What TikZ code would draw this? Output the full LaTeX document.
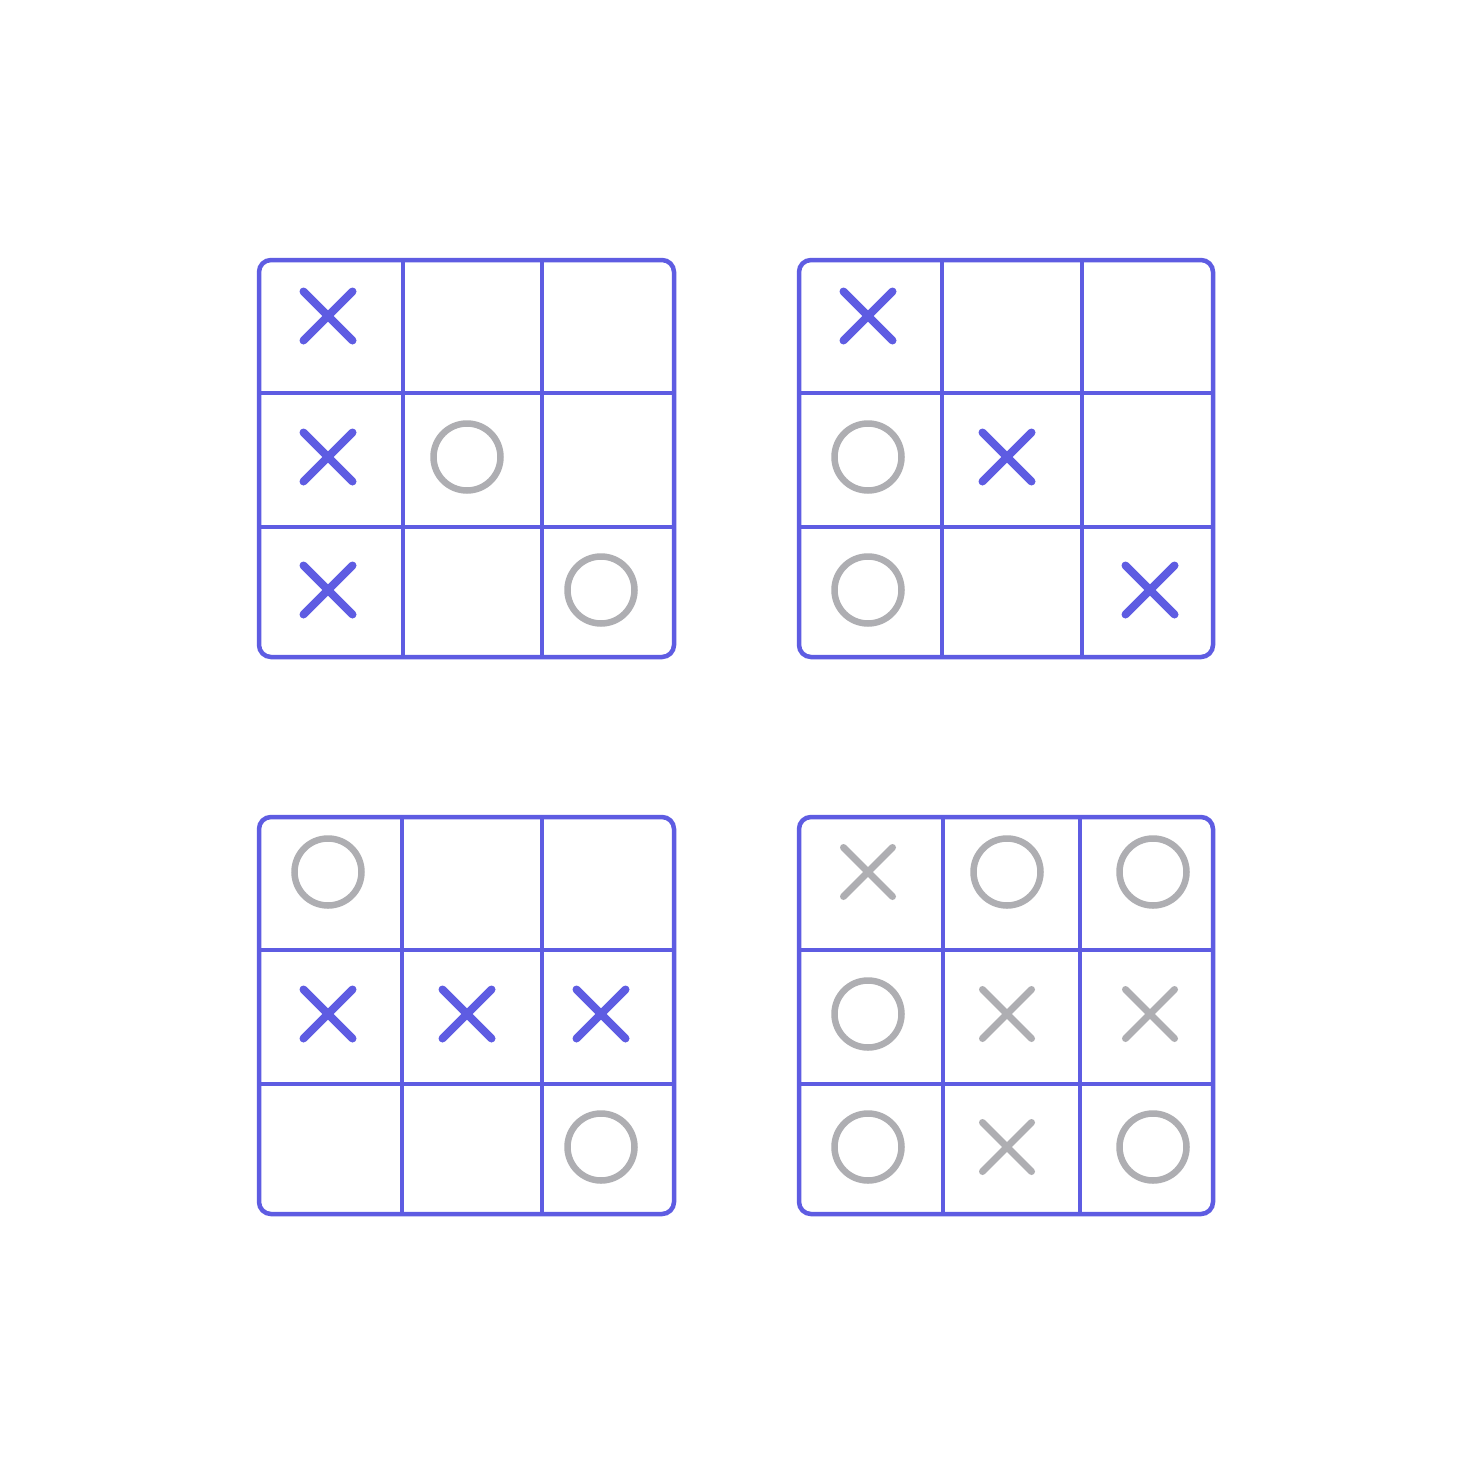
\documentclass[tikz,border=0pt]{standalone}
\usepackage{xcolor}
\usepackage{tikz}
\definecolor{gridblue}{HTML}{5E5CE2}
\definecolor{markgray}{HTML}{AEAEB2}

\begin{document}
\begin{tikzpicture}[
   			x=1pt, y=-1pt,
   			board/.style={draw=gridblue, line width=4.5pt, rounded corners=12pt},
   			gridline/.style={draw=gridblue, line width=4.3pt},
   			xmark/.style={line width=8pt, line cap=round},
   			omark/.style={draw=markgray, line width=6.5pt},
   			cross/.pic={\draw[xmark, pic actions] (-24.5,-24.5) -- (24.5,24.5) (-24.5,24.5) -- (24.5,-24.5);}]
   			\fill[white] (0,0) rectangle (1471,1472);
   			\useasboundingbox (0,0) rectangle (1471,1472);
   			% boards: left/top/right/bottom, then inner lines
   			\foreach \l/\t/\r/\b/\va/\vb/\ha/\hb in {
   				259/260/674/657/403/542/393/527,
   				799/260/1213/657/942/1082/393/527,
   				259/817/674/1214/402/542/950/1084,
   				799/817/1213/1214/943/1080/950/1084}
   			{
   				\draw[board] (\l,\t) rectangle (\r,\b);
   				\draw[gridline] (\va,\t) -- (\va,\b) (\vb,\t) -- (\vb,\b)
   				(\l,\ha) -- (\r,\ha) (\l,\hb) -- (\r,\hb);
   			}
   			% top left
   			\foreach \y in {316,457,590}
   				\pic[gridblue] at (328,\y) {cross};
   			\draw[omark] (467,457) circle (33.5) (601,590) circle (33.5);
   			% top right
   			\pic[gridblue] at (868,316) {cross};
   			\pic[gridblue] at (1007,457) {cross};
   			\pic[gridblue] at (1150,590) {cross};
   			\draw[omark] (868,457) circle (33.5) (868,590) circle (33.5);
   			% bottom left
   			\foreach \x in {328,467,601}
   				\pic[gridblue] at (\x,1014) {cross};
   			\draw[omark] (328,872) circle (33.5) (601,1147) circle (33.5);
   			% bottom right
   			\foreach \x/\y in {868/872,1007/1014,1150/1014,1007/1147}
   				\pic[markgray, xmark/.append style={line width=7pt}] at (\x,\y) {cross};
   			\foreach \x/\y in {1007/872,1153/872,868/1014,868/1147,1153/1147}
   				\draw[omark] (\x,\y) circle (33.5);
\end{tikzpicture}
\end{document}
